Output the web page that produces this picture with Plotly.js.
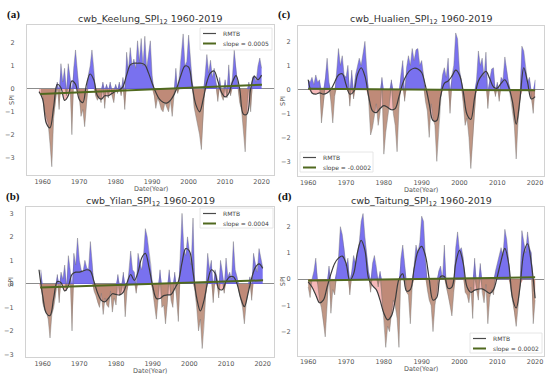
<!DOCTYPE html>
<html><head><meta charset="utf-8">
<script src="https://cdn.plot.ly/plotly-3.0.1.min.js"></script>
<style>html,body{margin:0;padding:0;background:#fff}#chart{width:550px;height:377px}</style>
</head><body><div id="chart"></div>
<script>
// ---------------- DATA ----------------
const stationNames = ['cwb_Keelung', 'cwb_Hualien', 'cwb_Yilan', 'cwb_Taitung'];
const panelLabels = ['(a)', '(c)', '(b)', '(d)'];
const slopeLabels = ['slope = 0.0005', 'slope = -0.0002', 'slope = 0.0004', 'slope = 0.0002'];
const xTickYears = [1960, 1970, 1980, 1990, 2000, 2010, 2020];
// SPI12 sampled every half year from 1959.5 to 2020.0 (122 values)
const spiStart = 1959.5, spiStep = 0.5;
const keelungSPI = [-0.2,
 -0.3,-1.0, -1.3,-1.5, -2.4,-3.4, -1.3,-0.6, 0.3,-0.9, 1.1,0.3, 0.9,-0.3, 1.1,0.5, -2.0,0.9, 1.7,0.8,
 -0.4,-1.2, -0.9,-1.65, -0.7,0.6, 1.0,1.7, 0.9,-0.3, -0.5,-0.3, -0.6,0.3, -0.85,0.2, -0.4,0.3, -0.3,-0.6,
 0.2,-0.2, 0.3,-0.3, 0.5,-0.9, 1.6,0.8, 1.8,1.0, 1.3,0.9, 2.1,1.2, 2.2,1.0, 2.3,0.9, 1.5,2.1,
 0.6,-0.3, -0.85,-0.4, -0.6,-0.9, -1.0,-0.6, -0.8,-1.0, -0.5,-1.2, -0.3,0.9, -0.2,0.6, 1.4,2.4, 1.0,1.2,
 2.35,1.5, 0.3,-0.8, -1.2,-1.6, -2.0,-2.65, -1.0,0.6, 1.5,0.7, 1.25,0.5, 0.9,0.3, -0.55,0.5, -0.3,-0.5,
 0.4,-0.4, 1.05,-0.3, 0.5,1.7, 0.8,0.2, -0.6,-0.9, -1.8,-2.75, -0.8,0.3, -1.0,0.5, 0.6,0.3, 1.0,1.35,
 0.9];
const hualienSPI = [null,
 0.4,0.3, 0.5,0.2, 0.6,0.3, 0.4,-1.4, -0.6,0.5, 1.3,0.3, -0.5,-1.4, -0.3,0.7, 1.7,1.0, 1.4,0.6,
 0.5,1.0, -0.7,0.8, -0.4,0.6, 0.9,1.3, 1.0,1.5, 2.0,0.8, -0.5,-1.9, -1.6,-1.0, -0.6,-1.5, -1.0,0.5,
 -2.7,-1.8, -1.2,-0.6, 0.4,-1.0, -1.5,-2.6, -0.8,0.6, 1.2,-0.5, 0.9,1.4, 1.0,1.7, 1.2,1.65, 1.7,1.0,
 1.2,0.6, -0.5,-0.9, -2.0,-0.6, -1.2,-1.5, -3.0,-1.8, -0.4,0.6, 0.9,0.5, 1.3,-1.0, 0.6,1.0, 2.35,2.1,
 0.8,0.4, -0.6,-1.5, -1.2,-2.0, -3.3,-2.2, -1.0,0.4, 1.6,1.0, 1.3,0.5, 1.55,-0.8, 0.4,0.85, 0.9,-0.3,
 0.3,-0.5, 0.5,0.4, 1.35,0.8, 0.3,-0.2, -0.9,-1.5, -2.9,-1.3, -0.5,1.8, 1.6,0.9, 0.3,0.5, -0.4,-1.0,
 0.4];
const yilanSPI = [0.6,
 -0.8,-1.1, -1.2,-1.5, -2.3,-1.3, -1.0,-0.5, 0.4,-0.8, 0.5,0.2, 0.8,-0.3, 1.2,0.6, -2.0,1.3, 0.8,1.95,
 1.0,0.6, 0.5,1.0, 0.7,0.6, 1.8,0.9, -0.3,-0.5, -0.8,-1.0, -0.4,-1.3, -0.6,-0.9, -1.0,-0.3, -1.2,-0.6,
 -0.9,0.4, -0.5,-0.3, 0.5,-1.4, -0.3,0.5, 1.4,0.6, 0.5,-0.4, 1.3,0.9, 0.6,1.2, 2.35,2.0, 1.4,0.8,
 -0.3,-0.8, -1.5,-0.6, 0.6,-1.0, -0.9,-1.7, -0.8,0.6, -0.7,-1.0, 0.5,-0.6, -1.6,1.2, 3.0,1.5, 1.2,2.0,
 1.5,0.8, 2.8,-0.3, -1.0,-2.0, -1.5,-2.75, -1.8,-0.5, 1.3,0.6, 1.0,-0.8, 0.6,0.3, -0.6,1.0, 0.5,-0.4,
 1.1,0.3, 0.5,0.2, 1.8,0.6, 0.3,-0.3, -0.6,-1.0, -1.7,-0.8, -0.4,0.3, -0.7,1.3, 0.8,0.5, 1.5,1.0,
 0.7];
const taitungSPI = [null,
 -0.3,-0.7, 0.0,0.3, 0.8,-0.2, -0.8,-1.1, -1.6,-2.2, -1.0,0.5, -1.3,-0.4, -0.6,0.3, 0.8,2.0, 1.7,1.2,
 0.5,0.8, -0.6,0.3, 0.9,0.6, 1.0,1.4, 2.2,2.5, 1.6,0.9, 0.3,-0.5, 0.6,0.9, 0.5,-0.3, 0.3,-0.8,
 -1.5,-2.6, -1.8,-2.0, -1.3,-0.8, -1.0,-1.5, -2.6,0.8, 1.3,0.6, -0.5,-0.6, -1.7,-0.3, 0.5,1.3, 1.0,1.4,
 2.4,2.2, 0.8,-0.4, -0.8,-1.0, -2.0,-1.0, -0.5,0.3, 0.5,0.0, 1.3,-0.3, -0.6,-1.0, -1.4,-0.5, 1.2,1.8,
 1.1,1.2, 0.8,-0.5, -0.6,-0.9, -0.3,-1.5, 0.8,-0.4, -0.8,0.6, -0.5,-0.9, -0.2,-1.7, -0.7,-0.4, -0.6,0.3,
 0.6,1.0, 1.2,0.9, 1.9,1.5, 0.6,-0.3, -0.8,-1.2, -1.8,-1.0, -0.3,1.85, 1.4,1.0, 1.8,1.2, 1.0,-1.7,
 -0.8];
// RMTB smoothed curve, yearly from 1959 to 2020 (62 values)
const rmtbStart = 1959;
const keelungRMTB = [-0.12,
 -0.45,-1.5,-1.7,-0.8,0.2,0.05,-0.5,-0.3,0.35,0.2,
 -0.45,-0.6,0.2,0.65,0.4,-0.3,-0.45,-0.3,-0.3,-0.2,
 -0.1,-0.05,0.1,0.6,1.05,1.12,1.12,1.12,1.05,0.7,
 0.25,-0.15,-0.45,-0.58,-0.62,-0.5,-0.25,0.15,0.65,1.0,
 0.95,0.1,-0.7,-1.0,-0.45,0.3,0.7,0.78,0.35,-0.15,
 -0.35,-0.2,0.3,0.58,0.0,-1.1,-1.1,0.0,0.55,0.4,
 0.6];
const hualienRMTB = [null,
 0.4,-0.15,-0.2,-0.15,-0.2,-0.15,0.0,0.3,0.6,0.65,
 0.2,-0.2,-0.1,0.6,0.9,0.55,-0.3,-0.9,-0.97,-0.8,
 -0.68,-0.75,-0.85,-0.8,-0.3,0.25,0.6,0.8,0.88,0.85,
 0.7,0.15,-0.6,-1.3,-1.3,-0.3,0.25,0.35,0.55,0.8,
 0.6,-0.1,-1.05,-1.25,-0.35,0.35,0.6,0.75,0.45,0.1,
 0.05,0.25,0.4,0.1,-0.5,-1.45,-0.4,0.9,0.3,-0.4,
 -0.3];
const yilanRMTB = [0.6,
 -0.5,-1.25,-1.35,-0.6,0.1,0.05,-0.3,-0.1,0.4,0.5,
 0.5,0.55,0.6,0.55,0.1,-0.4,-0.7,-0.76,-0.6,-0.42,
 -0.45,-0.47,-0.35,0.05,0.4,0.15,0.5,1.1,1.3,0.7,
 -0.1,-0.62,-0.62,-0.5,-0.47,-0.45,-0.2,0.1,0.9,1.5,
 1.4,0.5,-0.6,-1.15,-0.7,0.1,0.6,0.45,-0.2,-0.25,
 0.1,0.3,0.3,0.0,-0.6,-0.97,-0.4,0.25,0.7,0.85,
 0.66];
const taitungRMTB = [null,
 -0.1,-0.3,-0.6,-0.9,-0.8,-0.3,0.2,0.6,0.8,0.88,
 0.6,-0.05,0.2,1.0,1.48,1.1,0.0,-0.25,-0.4,-0.8,
 -1.3,-1.55,-1.4,-0.8,0.0,0.2,-0.45,-0.4,0.4,1.05,
 1.25,0.9,0.0,-0.8,-0.7,0.1,0.1,-0.35,-0.3,0.6,
 1.1,0.6,-0.3,-0.5,-0.42,-0.38,-0.37,-0.45,-0.54,-0.4,
 0.1,0.7,1.17,0.6,-0.7,-1.1,-0.3,1.0,1.35,0.6,
 -0.73];
// linear trend line endpoints [x0, x1] and [y0, y1]
const trendYears = [[1959.3, 2020.1], [1960.0, 2020.0], [1959.3, 2020.1], [1960.0, 2020.0]];
const trendValues = [[-0.22, 0.18], [0.03, -0.04], [-0.15, 0.15], [-0.05, 0.07]];

const spiSeries = [keelungSPI, hualienSPI, yilanSPI, taitungSPI];
const rmtbSeries = [keelungRMTB, hualienRMTB, yilanRMTB, taitungRMTB];

// ---------------- LAYOUT GEOMETRY ----------------
const W = 550, H = 377;
const boxes = [ // plot frames in px [left, top, right, bottom]
  [27, 25, 274, 175], [298, 26, 544, 176], [26, 207, 274, 357], [298, 207, 544, 355.5]];
const xRanges = [[1955.7, 2023.4], [1957.3, 2022.35], [1955.45, 2023.08], [1957.3, 2022.35]];
const yRanges = [[-3.76, 2.79], [-3.61, 2.64], [-3.11, 3.27], [-2.91, 2.75]];
const yTicks = [[-3,-2,-1,0,1,2], [-3,-2,-1,0,1,2], [-3,-2,-1,0,1,2,3], [-2,-1,0,1,2]];
const yTickLen = [10, 5, 10, 5];
const legendBoxes = [[200, 28, 272, 50], [300, 152, 373, 172], [200, 208, 273, 228], [470, 333, 542, 353]];

const px = x => x / W, py = y => 1 - y / H;
const FONT = 'DejaVu Sans, sans-serif';
const blue = 'rgba(98,88,236,0.85)', brown = 'rgba(178,128,106,0.82)', redFill = 'rgba(236,100,100,0.45)';
const rmtbColor = '#3c3c3c', slopeColor = '#50691f';

const traces = [], shapes = [], annotations = [];
const layout = {width: W, height: H, margin: {l: 0, r: 0, t: 0, b: 0}, showlegend: false,
  paper_bgcolor: '#fff', plot_bgcolor: '#fff'};

for (let i = 0; i < 4; i++) {
  const sfx = i === 0 ? '' : String(i + 1);
  const xa = 'x' + sfx, ya = 'y' + sfx;
  const spi = spiSeries[i], rmtb = rmtbSeries[i];
  const t = spi.map((_, k) => spiStart + k * spiStep);
  const tr = rmtb.map((_, k) => rmtbStart + k);
  const pos = spi.map(v => v === null ? null : Math.max(v, 0));
  const neg = spi.map(v => v === null ? null : Math.min(v, 0));
  const rneg = rmtb.map(v => v === null ? null : Math.min(v, 0));
  traces.push({x: tr, y: rneg, xaxis: xa, yaxis: ya, mode: 'lines', fill: 'tozeroy',
    fillcolor: redFill, line: {width: 0, shape: 'spline', smoothing: 1}, hoverinfo: 'skip'});
  traces.push({x: t, y: pos, xaxis: xa, yaxis: ya, mode: 'lines', fill: 'tozeroy',
    fillcolor: blue, line: {width: 0}, hoverinfo: 'skip'});
  traces.push({x: t, y: neg, xaxis: xa, yaxis: ya, mode: 'lines', fill: 'tozeroy',
    fillcolor: brown, line: {width: 0}, hoverinfo: 'skip'});
  traces.push({x: t, y: spi, xaxis: xa, yaxis: ya, mode: 'lines',
    line: {color: 'rgba(115,115,115,0.6)', width: 0.7}, hoverinfo: 'skip'});
  traces.push({x: tr, y: rmtb, xaxis: xa, yaxis: ya, mode: 'lines',
    line: {color: rmtbColor, width: 1.2, shape: 'spline', smoothing: 1}});
  traces.push({x: trendYears[i], y: trendValues[i], xaxis: xa, yaxis: ya, mode: 'lines',
    line: {color: slopeColor, width: 2}});

  const b = boxes[i];
  layout['xaxis' + sfx] = {domain: [px(b[0]), px(b[2])], range: xRanges[i], anchor: ya,
    tickvals: xTickYears, ticks: '', showgrid: false, zeroline: false,
    showline: true, mirror: true, linecolor: '#d2d2d2', linewidth: 1,
    tickfont: {family: FONT, size: 6.5, color: '#555'}};
  layout['yaxis' + sfx] = {domain: [py(b[3]), py(b[1])], range: yRanges[i], anchor: xa,
    tickvals: yTicks[i], ticks: 'outside', ticklen: yTickLen[i], tickcolor: 'rgba(0,0,0,0)', showgrid: false,
    zeroline: true, zerolinecolor: '#8c8c8c', zerolinewidth: 1.1,
    showline: true, mirror: true, linecolor: '#d2d2d2', linewidth: 1,
    tickfont: {family: FONT, size: 6.5, color: '#555'}};

  const cx = (b[0] + b[2]) / 2;
  annotations.push({xref: 'paper', yref: 'paper', x: px(cx), y: py(b[1] - 6), xanchor: 'center', yanchor: 'middle',
    text: stationNames[i] + '_SPI<sub>12</sub> 1960-2019', showarrow: false,
    font: {family: FONT, size: 9.5, color: '#333'}});
  annotations.push({xref: 'paper', yref: 'paper', x: px(cx), y: py(b[3] + 13.5), xanchor: 'center', yanchor: 'middle',
    text: 'Date(Year)', showarrow: false, font: {family: FONT, size: 6.5, color: '#555'}});
  annotations.push({xref: 'paper', yref: 'paper', x: px(b[0] - 15), y: py((b[1] + b[3]) / 2), xanchor: 'center', yanchor: 'middle',
    text: 'SPI', textangle: -90, showarrow: false, font: {family: FONT, size: 6.5, color: '#555'}});
  annotations.push({xref: 'paper', yref: 'paper', x: px(b[0] - 22), y: py(b[1] - 11), xanchor: 'left', yanchor: 'middle',
    text: '<b>' + panelLabels[i] + '</b>', showarrow: false, font: {family: 'Liberation Serif, serif', size: 11, color: '#111'}});

  // legend box
  const L = legendBoxes[i];
  shapes.push({type: 'rect', xref: 'paper', yref: 'paper', x0: px(L[0]), x1: px(L[2]), y0: py(L[3]), y1: py(L[1]),
    fillcolor: 'rgba(255,255,255,0.85)', line: {color: '#e0e0e0', width: 0.8}});
  const r1 = L[1] + 5.5, r2 = L[1] + 15.5;
  shapes.push({type: 'line', xref: 'paper', yref: 'paper', x0: px(L[0] + 3), x1: px(L[0] + 16), y0: py(r1), y1: py(r1),
    line: {color: '#4a4a4a', width: 1.2}});
  shapes.push({type: 'line', xref: 'paper', yref: 'paper', x0: px(L[0] + 3), x1: px(L[0] + 16), y0: py(r2), y1: py(r2),
    line: {color: slopeColor, width: 2}});
  annotations.push({xref: 'paper', yref: 'paper', x: px(L[0] + 21), y: py(r1), xanchor: 'left', yanchor: 'middle',
    text: 'RMTB', showarrow: false, font: {family: FONT, size: 6, color: '#444'}});
  annotations.push({xref: 'paper', yref: 'paper', x: px(L[0] + 21), y: py(r2), xanchor: 'left', yanchor: 'middle',
    text: slopeLabels[i], showarrow: false, font: {family: FONT, size: 6, color: '#444'}});
}
layout.shapes = shapes;
layout.annotations = annotations;
Plotly.newPlot('chart', traces, layout, {staticPlot: true, displayModeBar: false});
</script></body></html>
